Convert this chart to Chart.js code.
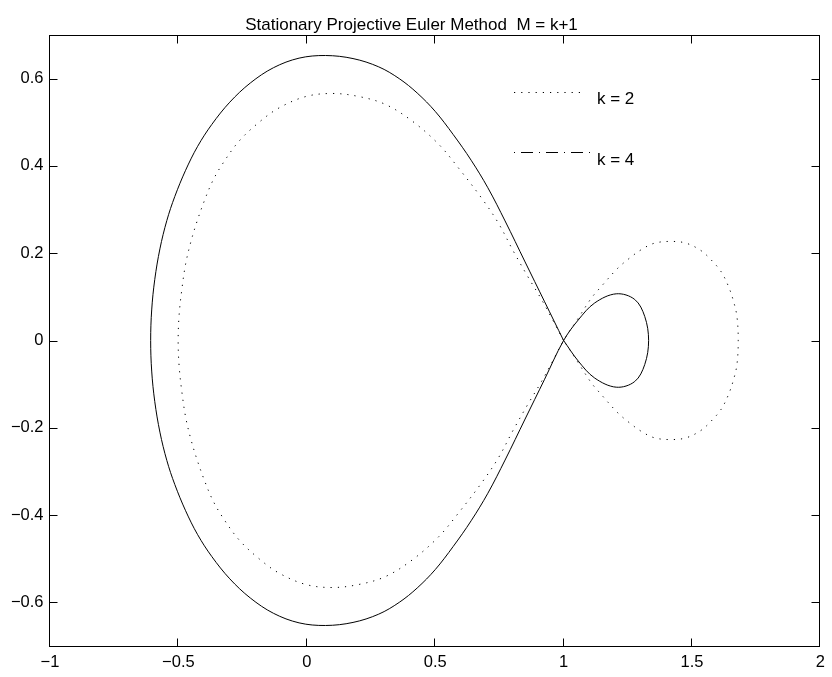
<!DOCTYPE html>
<html><head><meta charset="utf-8">
<script src="https://cdn.jsdelivr.net/npm/chart.js@4.4.1/dist/chart.umd.min.js"></script>
<style>html,body{margin:0;padding:0;background:#fff}canvas{display:block}</style>
</head><body>
<canvas id="c" width="832" height="677"></canvas>
<script>
const titleText = 'Stationary Projective Euler Method  M = k+1';
const seriesLabels = ['k = 2', 'k = 4'];

// k = 2 (dotted curve)
const k2X = [1.000, 0.953, 0.914, 0.860, 0.804, 0.746, 0.681, 0.591, 0.513, 0.410, 0.306, 0.203, 0.099, -0.004, -0.108, -0.186, -0.265, -0.330, -0.367, -0.399, -0.428, -0.452, -0.472, -0.486, -0.497, -0.501,
  -0.497, -0.486, -0.472, -0.452, -0.428, -0.399, -0.367, -0.330, -0.265, -0.186, -0.108, -0.004, 0.099, 0.203, 0.306, 0.410, 0.513, 0.591, 0.681, 0.746, 0.804, 0.860, 0.914, 0.953, 1.000,
  1.057, 1.108, 1.147, 1.208, 1.251, 1.302, 1.354, 1.419, 1.477, 1.535, 1.574, 1.613, 1.642, 1.662, 1.675, 1.680,
  1.675, 1.662, 1.642, 1.613, 1.574, 1.535, 1.477, 1.419, 1.354, 1.302, 1.251, 1.208, 1.147, 1.108, 1.057, 1.000];
const k2Y = [0.000, 0.052, 0.094, 0.147, 0.205, 0.269, 0.326, 0.395, 0.450, 0.503, 0.541, 0.559, 0.566, 0.559, 0.533, 0.500, 0.456, 0.403, 0.365, 0.320, 0.272, 0.225, 0.175, 0.120, 0.060, 0.000,
  -0.060, -0.120, -0.175, -0.225, -0.272, -0.320, -0.365, -0.403, -0.456, -0.500, -0.533, -0.559, -0.566, -0.559, -0.541, -0.503, -0.450, -0.395, -0.326, -0.269, -0.205, -0.147, -0.094, -0.052, 0.000,
  0.051, 0.097, 0.124, 0.164, 0.186, 0.208, 0.223, 0.227, 0.223, 0.206, 0.185, 0.158, 0.124, 0.089, 0.055, 0.000,
  -0.055, -0.089, -0.124, -0.158, -0.185, -0.206, -0.223, -0.227, -0.223, -0.208, -0.186, -0.164, -0.124, -0.097, -0.051, 0.000];

// k = 4 (solid curve)
const k4X = [1.000, 0.925, 0.850, 0.772, 0.705, 0.640, 0.570, 0.500, 0.430, 0.360, 0.280, 0.180, 0.073, -0.030, -0.130, -0.220, -0.300, -0.370, -0.425, -0.472, -0.514, -0.545, -0.572, -0.592, -0.604, -0.608,
  -0.604, -0.592, -0.572, -0.545, -0.514, -0.472, -0.425, -0.370, -0.300, -0.220, -0.130, -0.030, 0.073, 0.180, 0.280, 0.360, 0.430, 0.500, 0.570, 0.640, 0.705, 0.772, 0.850, 0.925, 1.000,
  1.057, 1.121, 1.205, 1.277, 1.316, 1.331, 1.316, 1.277, 1.205, 1.121, 1.057, 1.000];
const k4Y = [0.000, 0.090, 0.180, 0.274, 0.350, 0.413, 0.472, 0.525, 0.567, 0.600, 0.627, 0.646, 0.653, 0.647, 0.625, 0.590, 0.546, 0.495, 0.445, 0.390, 0.330, 0.275, 0.210, 0.140, 0.070, 0.000,
  -0.070, -0.140, -0.210, -0.275, -0.330, -0.390, -0.445, -0.495, -0.546, -0.590, -0.625, -0.647, -0.653, -0.646, -0.627, -0.600, -0.567, -0.525, -0.472, -0.413, -0.350, -0.274, -0.180, -0.090, 0.000,
  0.047, 0.086, 0.107, 0.094, 0.055, 0.000, -0.055, -0.094, -0.107, -0.086, -0.047, 0.000];

const xTicks = [-1, -0.5, 0, 0.5, 1, 1.5, 2];
const xTickLabels = ['\u22121', '\u22120.5', '0', '0.5', '1', '1.5', '2'];
const yTicks = [-0.6, -0.4, -0.2, 0, 0.2, 0.4, 0.6];
const yTickLabels = ['\u22120.6', '\u22120.4', '\u22120.2', '0', '0.2', '0.4', '0.6'];
const xRange = [-1, 2];
const yRange = [-0.7, 0.7];

const FONT = 'Liberation Sans, Arial, Helvetica, sans-serif';
const toPts = (xs, ys) => xs.map((x, i) => ({x, y: ys[i]}));

const legendDash = [[1.2, 6], [1, 6, 12, 6]];

const bgPlugin = {
  id: 'bg',
  beforeDraw(chart) {
    const c = chart.ctx; c.save(); c.fillStyle = '#fff';
    c.fillRect(0, 0, chart.width, chart.height); c.restore();
  }
};

const framePlugin = {
  id: 'frame',
  afterDatasetsDraw(chart) {
    const {ctx, chartArea: a, scales} = chart;
    ctx.save();
    ctx.strokeStyle = '#000'; ctx.lineWidth = 1; ctx.setLineDash([]);
    const x0 = Math.floor(a.left) - 0.5, x1 = Math.floor(a.right) - 0.5;
    const y0 = Math.floor(a.top) + 0.5, y1 = Math.floor(a.bottom) + 0.5;
    ctx.strokeRect(x0, y0, x1 - x0, y1 - y0);
    const tl = 8;
    ctx.beginPath();
    xTicks.forEach(v => {
      const px = Math.round(scales.x.getPixelForValue(v)) - 0.5;
      ctx.moveTo(px, y1); ctx.lineTo(px, y1 - tl);
      ctx.moveTo(px, y0); ctx.lineTo(px, y0 + tl);
    });
    yTicks.forEach(v => {
      const py = Math.round(scales.y.getPixelForValue(v)) + 0.5;
      ctx.moveTo(x0, py); ctx.lineTo(x0 + tl, py);
      ctx.moveTo(x1, py); ctx.lineTo(x1 - tl, py);
    });
    ctx.stroke();
    ctx.restore();
  }
};

const legendPlugin = {
  id: 'mlegend',
  afterDraw(chart) {
    const {ctx, chartArea: a} = chart;
    ctx.save();
    ctx.strokeStyle = '#000'; ctx.lineWidth = 1;
    ctx.fillStyle = '#000';
    ctx.font = '17px ' + FONT;
    ctx.textAlign = 'left'; ctx.textBaseline = 'alphabetic';
    const lx0 = a.left + 464;
    const rows = [
      {lineY: a.top + 57.5, end: a.left + 536, textBase: a.top + 68.5},
      {lineY: a.top + 117.5, end: a.left + 541, textBase: a.top + 129.5}
    ];
    rows.forEach((r, i) => {
      ctx.setLineDash(legendDash[i]);
      ctx.beginPath(); ctx.moveTo(lx0, r.lineY); ctx.lineTo(r.end, r.lineY); ctx.stroke();
      ctx.setLineDash([]);
      ctx.fillText(seriesLabels[i], a.left + 547, r.textBase);
    });
    ctx.restore();
  }
};

new Chart(document.getElementById('c'), {
  type: 'scatter',
  data: {
    datasets: [
      { label: seriesLabels[0], data: toPts(k2X, k2Y), showLine: true, borderColor: '#000', borderWidth: 1,
        borderDash: [1.2, 6], pointRadius: 0, tension: 0.35, fill: false },
      { label: seriesLabels[1], data: toPts(k4X, k4Y), showLine: true, borderColor: '#000', borderWidth: 1,
        pointRadius: 0, tension: 0.35, fill: false }
    ]
  },
  options: {
    responsive: false,
    devicePixelRatio: 1,
    animation: false,
    layout: { padding: { left: 0, right: 9, top: 0, bottom: 0 } },
    plugins: {
      legend: { display: false },
      tooltip: { enabled: false },
      title: {
        display: true, text: titleText, color: '#000',
        font: { family: FONT, size: 17, weight: 'normal', lineHeight: 1 },
        padding: { top: 17.3, bottom: 0.7 }
      }
    },
    scales: {
      x: {
        type: 'linear', min: xRange[0], max: xRange[1],
        grid: { display: false, drawTicks: false, tickLength: 0 },
        border: { display: false },
        afterBuildTicks: s => { s.ticks = xTicks.map(v => ({value: v})); },
        afterFit: s => { s.height = 31; },
        ticks: { autoSkip: false, maxRotation: 0, padding: 7, color: '#000',
          font: { family: FONT, size: 16.5 },
          callback: (v, i) => xTickLabels[i] }
      },
      y: {
        type: 'linear', min: yRange[0], max: yRange[1],
        grid: { display: false, drawTicks: false, tickLength: 0 },
        border: { display: false },
        afterBuildTicks: s => { s.ticks = yTicks.map(v => ({value: v})); },
        afterFit: s => { s.width = 50; },
        ticks: { autoSkip: false, padding: 6.5, color: '#000',
          font: { family: FONT, size: 16.5 },
          callback: (v, i) => yTickLabels[i] }
      }
    }
  },
  plugins: [bgPlugin, framePlugin, legendPlugin]
});
</script>
</body></html>
